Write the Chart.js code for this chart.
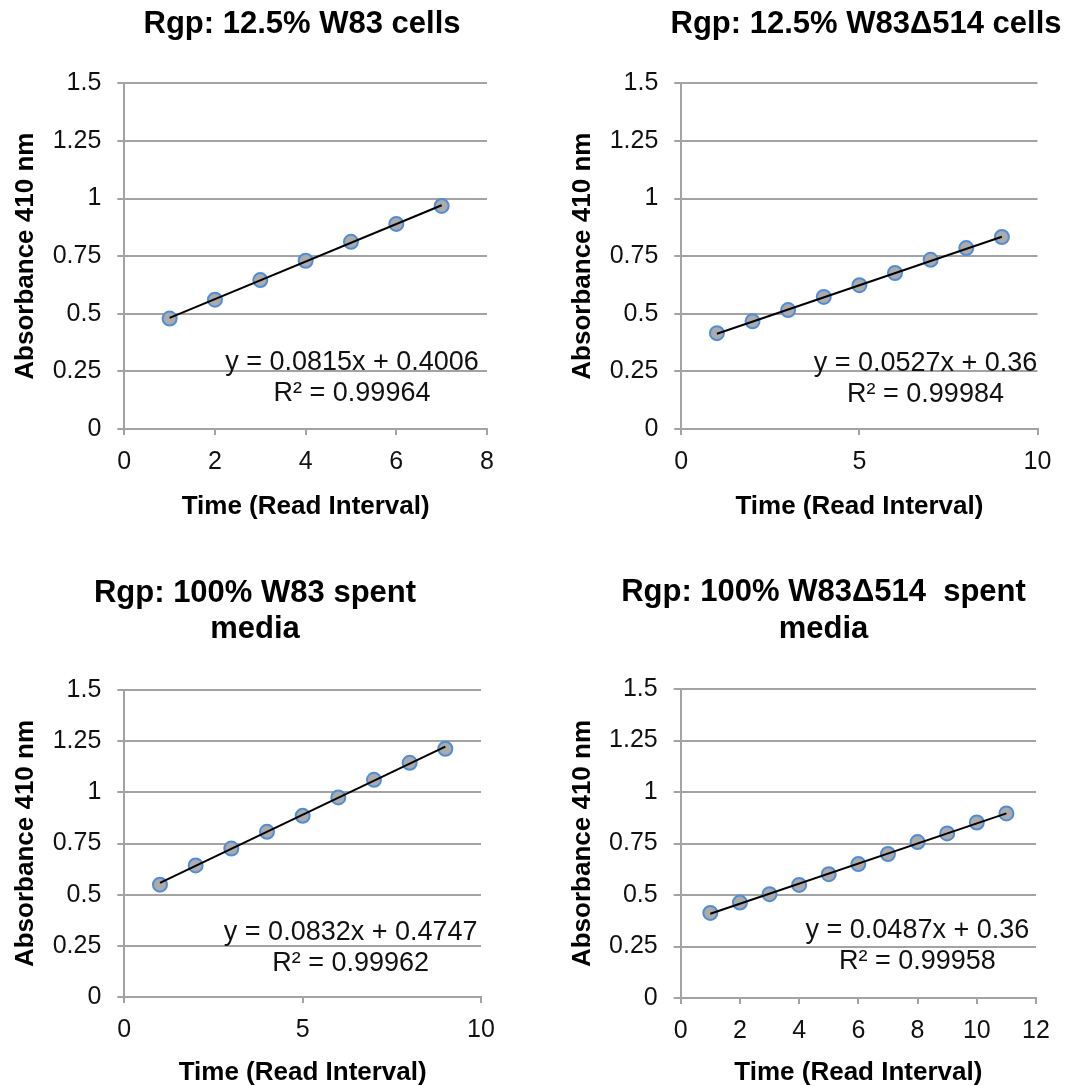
<!DOCTYPE html>
<html>
<head>
<meta charset="utf-8">
<script src="https://cdn.jsdelivr.net/npm/chart.js@4.4.1/dist/chart.umd.min.js"></script>
<style>
html, body { margin: 0; padding: 0; background: #fff; overflow: hidden; width: 1078px; height: 1086px; }
canvas { position: absolute; }
</style>
</head>
<body>
<canvas id="c1"></canvas>
<canvas id="c2"></canvas>
<canvas id="c3"></canvas>
<canvas id="c4"></canvas>
<script>
// ---------------- DATA ----------------
const yTicks = [0, 0.25, 0.5, 0.75, 1, 1.25, 1.5];
const yTickLabels = ["0", "0.25", "0.5", "0.75", "1", "1.25", "1.5"];
const yAxisTitle = "Absorbance 410 nm";
const xAxisTitle = "Time (Read Interval)";

// Panel 1
const title1 = ["Rgp: 12.5% W83 cells"];
const time1 = [1, 2, 3, 4, 5, 6, 7];
const abs1 = [0.479, 0.561, 0.646, 0.730, 0.812, 0.890, 0.968];
const trendX1 = [1, 7];
const trendY1 = [0.482, 0.971];
const eq1 = ["y = 0.0815x + 0.4006", "R\u00B2 = 0.99964"];
const xTicks1 = [0, 2, 4, 6, 8];
const xTickLabels1 = ["0", "2", "4", "6", "8"];

// Panel 2
const title2 = ["Rgp: 12.5% W83\u0394514 cells"];
const time2 = [1, 2, 3, 4, 5, 6, 7, 8, 9];
const abs2 = [0.416, 0.467, 0.516, 0.573, 0.624, 0.677, 0.734, 0.785, 0.833];
const trendX2 = [1, 9];
const trendY2 = [0.413, 0.834];
const eq2 = ["y = 0.0527x + 0.36", "R\u00B2 = 0.99984"];
const xTicks2 = [0, 5, 10];
const xTickLabels2 = ["0", "5", "10"];

// Panel 3
const title3 = ["Rgp: 100% W83 spent", "media"];
const time3 = [1, 2, 3, 4, 5, 6, 7, 8, 9];
const abs3 = [0.549, 0.643, 0.725, 0.807, 0.885, 0.975, 1.061, 1.144, 1.213];
const trendX3 = [1, 9];
const trendY3 = [0.558, 1.223];
const eq3 = ["y = 0.0832x + 0.4747", "R\u00B2 = 0.99962"];
const xTicks3 = [0, 5, 10];
const xTickLabels3 = ["0", "5", "10"];

// Panel 4
const title4 = ["Rgp: 100% W83\u0394514  spent", "media"];
const time4 = [1, 2, 3, 4, 5, 6, 7, 8, 9, 10, 11];
const abs4 = [0.413, 0.463, 0.504, 0.549, 0.601, 0.650, 0.699, 0.757, 0.799, 0.852, 0.896];
const trendX4 = [1, 11];
const trendY4 = [0.409, 0.896];
const eq4 = ["y = 0.0487x + 0.36", "R\u00B2 = 0.99958"];
const xTicks4 = [0, 2, 4, 6, 8, 10, 12];
const xTickLabels4 = ["0", "2", "4", "6", "8", "10", "12"];

// ---------------- LAYOUT / STYLE ----------------
const FONT = '"Liberation Sans", Arial, Helvetica, sans-serif';
const GRID = '#a3a3a3';

const panels = [
  { id: 'c1', left: 0,   top: 0,   w: 539, h: 543, area: { l: 124.3, r: 487,   t: 83.3, b: 429 }, yTitleX: 26, xTitleY: 507,
    titleX: 302, titleY: [24], eqX: 352, eqY: [363, 394] },
  { id: 'c2', left: 539, top: 0,   w: 539, h: 543, area: { l: 142.3, r: 498.5, t: 83.3, b: 429 }, yTitleX: 44, xTitleY: 507,
    titleX: 327, titleY: [24], eqX: 386.5, eqY: [363.5, 394.5] },
  { id: 'c3', left: 0,   top: 543, w: 539, h: 560, area: { l: 124.3, r: 481,   t: 147,  b: 454 }, yTitleX: 26, xTitleY: 530,
    titleX: 255, titleY: [50.6, 86.5], eqX: 350.7, eqY: [390, 421] },
  { id: 'c4', left: 539, top: 543, w: 539, h: 560, area: { l: 141.7, r: 497,   t: 146,  b: 455 }, yTitleX: 44, xTitleY: 530,
    titleX: 284.5, titleY: [49, 86], eqX: 378.4, eqY: [388, 419] }
];

const datas = [
  { title: title1, x: time1, y: abs1, tx: trendX1, ty: trendY1, eq: eq1, xt: xTicks1, xl: xTickLabels1 },
  { title: title2, x: time2, y: abs2, tx: trendX2, ty: trendY2, eq: eq2, xt: xTicks2, xl: xTickLabels2 },
  { title: title3, x: time3, y: abs3, tx: trendX3, ty: trendY3, eq: eq3, xt: xTicks3, xl: xTickLabels3 },
  { title: title4, x: time4, y: abs4, tx: trendX4, ty: trendY4, eq: eq4, xt: xTicks4, xl: xTickLabels4 }
];

const panelText = {
  id: 'panelText',
  afterDraw(chart, args, opts) {
    const ctx = chart.ctx;
    ctx.save();
    ctx.fillStyle = '#000';
    ctx.textAlign = 'center';
    ctx.textBaseline = 'middle';
    ctx.font = 'bold 31px ' + FONT;
    opts.title.forEach((t, i) => ctx.fillText(t, opts.titleX, opts.titleY[i]));
    ctx.fillStyle = '#111';
    ctx.font = '27px ' + FONT;
    opts.eq.forEach((t, i) => ctx.fillText(t, opts.eqX, opts.eqY[i]));
    ctx.restore();
  }
};

function makeChart(p, d) {
  const cv = document.getElementById(p.id);
  cv.width = p.w; cv.height = p.h;
  cv.style.left = p.left + 'px'; cv.style.top = p.top + 'px';
  cv.style.width = p.w + 'px'; cv.style.height = p.h + 'px';

  const titleHalf = 26 * 1.2 / 2;
  const padLeft = p.yTitleX - titleHalf;
  const yW = p.area.l - padLeft;
  const xBottom = p.xTitleY + titleHalf;
  const xH = xBottom - p.area.b;
  const padBottom = p.h - xBottom;

  const points = d.x.map((v, i) => ({ x: v, y: d.y[i] }));
  const trend = d.tx.map((v, i) => ({ x: v, y: d.ty[i] }));

  new Chart(cv, {
    type: 'scatter',
    data: {
      datasets: [
        { data: trend, showLine: true, borderColor: '#000', borderWidth: 2, pointRadius: 0, fill: false, order: 0 },
        { data: points, showLine: false, pointRadius: 7, pointBorderWidth: 2,
          pointBackgroundColor: '#ababab', pointBorderColor: '#4f8ed6', order: 1 }
      ]
    },
    options: {
      responsive: false,
      animation: false,
      devicePixelRatio: 1,
      layout: { padding: { left: padLeft, right: p.w - p.area.r, top: p.area.t, bottom: padBottom } },
      plugins: {
        legend: { display: false },
        title: { display: false },
        tooltip: { enabled: false },
        panelText: { title: d.title, titleX: p.titleX, titleY: p.titleY, eq: d.eq, eqX: p.eqX, eqY: p.eqY }
      },
      scales: {
        x: {
          type: 'linear', min: d.xt[0], max: d.xt[d.xt.length - 1],
          afterBuildTicks: s => { s.ticks = d.xt.map(v => ({ value: v })); },
          afterFit: s => { s.height = xH; },
          ticks: { callback: (v, i) => d.xl[i], color: '#111', font: { family: FONT, size: 25 }, padding: 12, maxRotation: 0, autoSkip: false },
          grid: { drawOnChartArea: false, drawTicks: true, tickLength: 6, color: GRID, lineWidth: 2 },
          border: { display: true, color: GRID, width: 2 },
          title: { display: true, text: xAxisTitle, color: '#000', font: { family: FONT, size: 26, weight: 'bold' }, padding: { top: 0, bottom: 0 } }
        },
        y: {
          type: 'linear', min: 0, max: 1.5,
          afterBuildTicks: s => { s.ticks = yTicks.map(v => ({ value: v })); },
          afterFit: s => { s.width = yW; },
          ticks: { callback: (v, i) => yTickLabels[i], color: '#111', font: { family: FONT, size: 25 }, padding: 16, autoSkip: false },
          grid: { drawTicks: true, tickLength: 7, color: GRID, lineWidth: 2 },
          border: { display: true, color: GRID, width: 2 },
          title: { display: true, text: yAxisTitle, color: '#000', font: { family: FONT, size: 26, weight: 'bold' }, padding: { top: 0, bottom: 0 } }
        }
      }
    },
    plugins: [panelText]
  });
}

panels.forEach((p, i) => makeChart(p, datas[i]));
</script>
</body>
</html>
